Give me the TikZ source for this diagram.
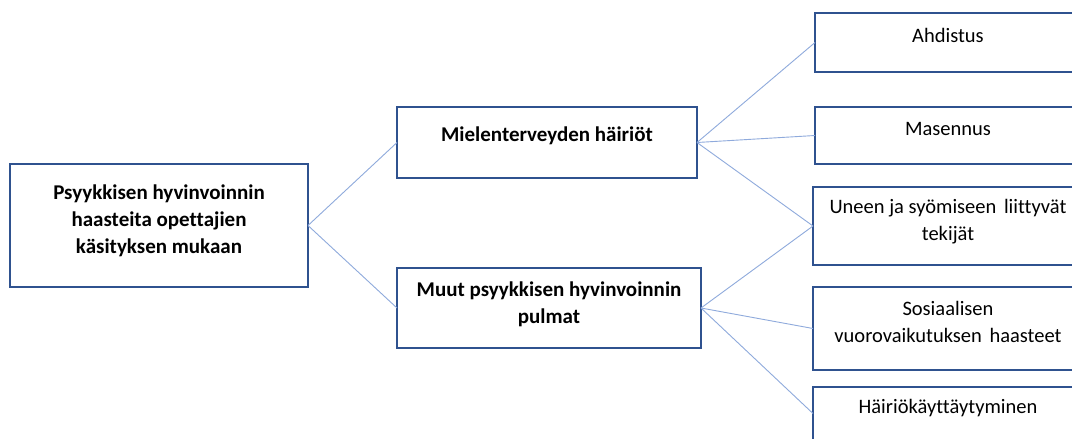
\documentclass[tikz,border=0pt]{standalone}
\usepackage{fontspec}
\setmainfont{Carlito}[Ligatures=NoCommon]
\definecolor{boxblue}{HTML}{2F528F}
\definecolor{lineblue}{HTML}{8FAADC}
\tikzset{
  boxnode/.style={draw=boxblue, line width=2pt, fill=white, inner sep=0pt, outer sep=0pt, anchor=north west},
  conn/.style={draw=lineblue, line width=0.9pt},
  boldtxt/.style={font=\fontsize{21}{27}\selectfont\bfseries, align=center, inner sep=0pt},
  normtxt/.style={font=\fontsize{20.5}{27}\selectfont, align=center, inner sep=0pt}
}
\begin{document}
\begin{tikzpicture}[x=1pt,y=-1pt]
\useasboundingbox (0,0) rectangle (1072,439);
\clip (0,0) rectangle (1072,439);
\fill[white] (0,0) rectangle (1072,439);
% boxes
\node[boxnode, minimum width=298pt, minimum height=123pt] (root) at (10,164) {};
\node[boxnode, minimum width=300pt, minimum height=71pt] (mid1) at (397,107) {};
\node[boxnode, minimum width=304pt, minimum height=80pt] (mid2) at (397,268) {};
\node[boxnode, minimum width=270pt, minimum height=59pt] (ahd) at (815,13) {};
\node[boxnode, minimum width=270pt, minimum height=57pt] (mas) at (815,107) {};
\node[boxnode, minimum width=272pt, minimum height=78pt] (une) at (813,187) {};
\node[boxnode, minimum width=272pt, minimum height=83pt] (sos) at (813,287) {};
\node[boxnode, minimum width=272pt, minimum height=53pt] (hai) at (813,387) {};
% connectors
\draw[conn] (root.east) -- (mid1.west);
\draw[conn] (root.east) -- (mid2.west);
\draw[conn] (mid1.east) -- (ahd.west);
\draw[conn] (mid1.east) -- (mas.west);
\draw[conn] (mid1.east) -- (une.west);
\draw[conn] (mid2.east) -- (une.west);
\draw[conn] (mid2.east) -- (sos.west);
\draw[conn] (mid2.east) -- (hai.west);
% texts
\node[boldtxt] (rootT) at (159,221) {Psyykkisen hyvinvoinnin\\haasteita opettajien\\käsityksen mukaan};
\node[boldtxt] (mid1T) at (547,136) {Mielenterveyden häiriöt};
\node[boldtxt] (mid2T) at (549,304) {Muut psyykkisen hyvinvoinnin\\pulmat};
\node[normtxt] (ahdT) at (948,35) {Ahdistus};
\node[normtxt] (masT) at (948,129) {Masennus};
\node[normtxt] (uneT) at (948,222) {Uneen ja syömiseen\hspace{3pt} liittyvät\\tekijät};
\node[normtxt] (sosT) at (948,322) {Sosiaalisen\\vuorovaikutuksen\hspace{3pt} haasteet};
\node[normtxt] (haiT) at (948,408) {Häiriökäyttäytyminen};
\end{tikzpicture}
\end{document}
